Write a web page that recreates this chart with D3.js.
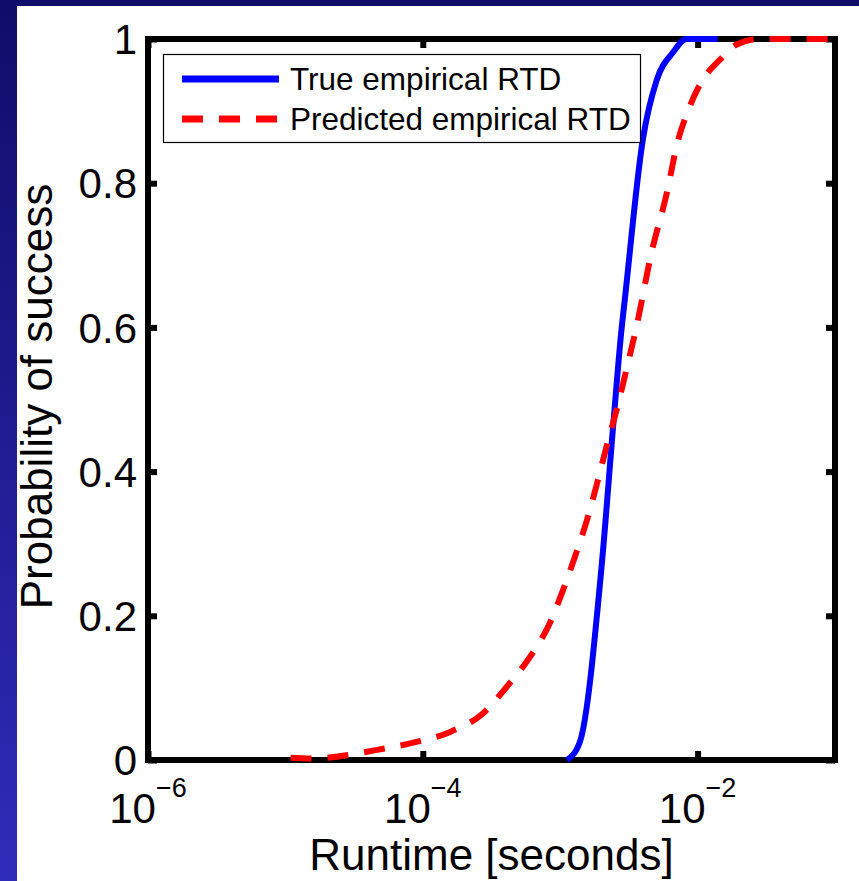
<!DOCTYPE html>
<html>
<head>
<meta charset="utf-8">
<script src="https://cdn.jsdelivr.net/npm/d3@7"></script>
<style>
  html, body { margin: 0; padding: 0; background: #ffffff; }
  svg { display: block; }
  text { font-family: "Liberation Sans", Arial, Helvetica, sans-serif; fill: #000; }
</style>
</head>
<body>
<script>
// Empirical run-time distributions: runtime (seconds) vs. probability of success
const trueRuntime = [1.12e-3, 1.39e-3, 2.00e-3, 2.45e-3, 2.79e-3, 2.95e-3, 3.99e-3, 5.04e-3, 6.59e-3, 8.32e-3, 1.40e-2];
const trueProb    = [0.000,   0.025,   0.268,   0.472,   0.596,   0.638,   0.860,   0.943,   0.981,   1.000,   1.000];

const predRuntime = [1.09e-5, 1.52e-5, 4.65e-5, 8.51e-5, 1.58e-4, 2.75e-4, 4.10e-4, 6.03e-4, 8.41e-4, 1.05e-3, 1.28e-3,
                     1.59e-3, 1.88e-3, 2.21e-3, 2.57e-3, 3.03e-3, 3.59e-3, 4.61e-3, 6.05e-3, 7.00e-3, 8.75e-3,
                     1.12e-2, 1.45e-2, 1.91e-2, 2.81e-2, 1.00e-1];
const predProb    = [0.003,   0.002,   0.014,   0.024,   0.039,   0.065,   0.102,   0.143,   0.190,   0.236,   0.282,
                     0.337,   0.388,   0.440,   0.485,   0.541,   0.601,   0.703,   0.791,   0.850,   0.906,
                     0.947,   0.971,   0.992,   1.000,   1.000];

const xTickExponents = [-6, -4, -2];
const yTickValues = [0, 0.2, 0.4, 0.6, 0.8, 1];
const seriesNames = ["True empirical RTD", "Predicted empirical RTD"];
const xTitle = "Runtime [seconds]";
const yTitle = "Probability of success";

const W = 859, H = 881;
const plot = { left: 148, right: 835, top: 39, bottom: 760 };

const svg = d3.select("body").append("svg").attr("width", W).attr("height", H);

// Slide frame: navy gradient with a white canvas
const defs = svg.append("defs");
const grad = defs.append("linearGradient").attr("id", "frame").attr("x1", 0).attr("y1", 0).attr("x2", 0).attr("y2", 1);
grad.append("stop").attr("offset", "0%").attr("stop-color", "#100c69");
grad.append("stop").attr("offset", "100%").attr("stop-color", "#302cba");
svg.append("rect").attr("width", W).attr("height", H).attr("fill", "url(#frame)");
svg.append("rect").attr("x", 17).attr("y", 6).attr("width", W - 17).attr("height", H - 6).attr("fill", "#ffffff");

const x = d3.scaleLog().domain([1e-6, 1e-1]).range([plot.left, plot.right]);
const y = d3.scaleLinear().domain([0, 1]).range([plot.bottom, plot.top]);

const axisW = 6, tickLen = 9;

// Axes with inward ticks on all four sides
const xTicks = xTickExponents.map(e => Math.pow(10, e));
function styleAxis(g) {
  g.select(".domain").remove();
  g.selectAll(".tick line").attr("stroke", "#000").attr("stroke-width", axisW);
  g.selectAll(".tick text").remove();
}
svg.append("g").attr("transform", `translate(0,${plot.bottom})`)
  .call(d3.axisBottom(x).tickValues(xTicks).tickSizeInner(-tickLen).tickSizeOuter(0)).call(styleAxis);
svg.append("g").attr("transform", `translate(0,${plot.top})`)
  .call(d3.axisTop(x).tickValues(xTicks).tickSizeInner(-tickLen).tickSizeOuter(0)).call(styleAxis);
svg.append("g").attr("transform", `translate(${plot.left},0)`)
  .call(d3.axisLeft(y).tickValues(yTickValues).tickSizeInner(-tickLen).tickSizeOuter(0)).call(styleAxis);
svg.append("g").attr("transform", `translate(${plot.right},0)`)
  .call(d3.axisRight(y).tickValues(yTickValues).tickSizeInner(-tickLen).tickSizeOuter(0)).call(styleAxis);

// Box
svg.append("rect")
  .attr("x", plot.left).attr("y", plot.top)
  .attr("width", plot.right - plot.left).attr("height", plot.bottom - plot.top)
  .attr("fill", "none").attr("stroke", "#000").attr("stroke-width", axisW)
  .attr("stroke-linejoin", "miter");

// Y tick labels
svg.append("g").selectAll("text").data(yTickValues).join("text")
  .attr("x", plot.left - 11).attr("y", d => y(d)).attr("dy", "0.36em")
  .attr("text-anchor", "end").attr("font-size", 42)
  .text(d => d === 0 || d === 1 ? String(d) : d.toFixed(1));

// X tick labels as powers of ten
const xl = svg.append("g").selectAll("text").data(xTickExponents).join("text")
  .attr("x", d => x(Math.pow(10, d))).attr("y", plot.bottom + 63)
  .attr("text-anchor", "middle").attr("font-size", 42);
xl.append("tspan").text("10");
xl.append("tspan").attr("dy", -26).attr("font-size", 27).text(d => "\u2212" + Math.abs(d));

// Axis titles
svg.append("text").attr("x", (plot.left + plot.right) / 2).attr("y", 870)
  .attr("text-anchor", "middle").attr("font-size", 44).text(xTitle);
svg.append("text").attr("transform", `translate(52,${(plot.top + plot.bottom) / 2 - 3}) rotate(-90)`)
  .attr("text-anchor", "middle").attr("font-size", 44).text(yTitle);

// Curves
const line = d3.line().x(d => x(d[0])).y(d => y(d[1])).curve(d3.curveMonotoneX);
const trueData = trueRuntime.map((t, i) => [t, trueProb[i]]);
const predData = predRuntime.map((t, i) => [t, predProb[i]]);

svg.append("path").datum(trueData).attr("d", line)
  .attr("fill", "none").attr("stroke", "#0000ff").attr("stroke-width", 6).attr("stroke-linejoin", "round");
svg.append("path").datum(predData).attr("d", line)
  .attr("fill", "none").attr("stroke", "#ff0000").attr("stroke-width", 6)
  .attr("stroke-dasharray", "21,16");

// Legend
const lg = svg.append("g");
lg.append("rect").attr("x", 163.5).attr("y", 54.5).attr("width", 477).attr("height", 88)
  .attr("fill", "#fff").attr("stroke", "#000").attr("stroke-width", 1.2);
const legendRows = [
  { name: seriesNames[0], color: "#0000ff", dash: null, y: 79 },
  { name: seriesNames[1], color: "#ff0000", dash: "21,16", y: 119 }
];
legendRows.forEach(r => {
  lg.append("line").attr("x1", 182).attr("x2", 279).attr("y1", r.y).attr("y2", r.y)
    .attr("stroke", r.color).attr("stroke-width", 7).attr("stroke-dasharray", r.dash);
  lg.append("text").attr("x", 290).attr("y", r.y + 11).attr("font-size", 31.5).text(r.name);
});
</script>
</body>
</html>
